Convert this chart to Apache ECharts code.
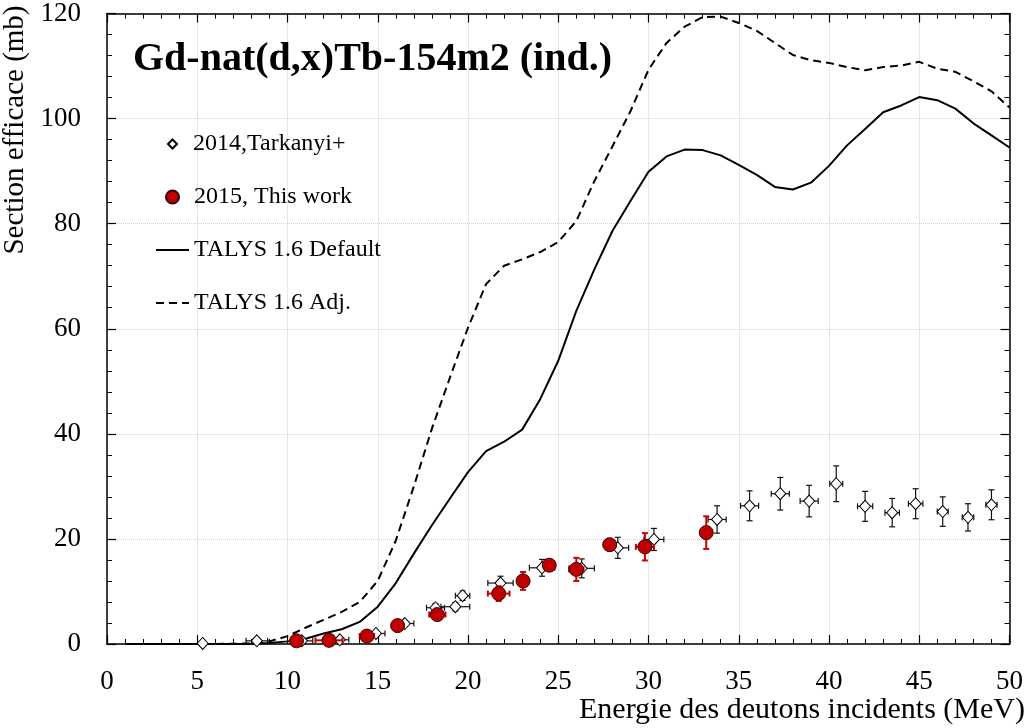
<!DOCTYPE html>
<html>
<head>
<meta charset="utf-8">
<script src="https://cdn.jsdelivr.net/npm/echarts@6/dist/echarts.min.js"></script>
<style>
  html, body { margin: 0; padding: 0; background: #fff; }
  #chart { width: 1026px; height: 728px; }
</style>
</head>
<body>
<div id="chart"></div>
<script>
// TALYS 1.6 curves, 1 MeV steps
const talysE = [1,2,3,4,5,6,7,8,9,10,11,12,13,14,15,16,17,18,19,20,21,22,23,24,25,26,27,28,29,30,31,32,33,34,35,36,37,38,39,40,41,42,43,44,45,46,47,48,49,50]
const talysDefault = [0,0,0,0,0,0,0,0.05,0.2,0.5,1.0,2.0,2.8,4.2,7.1,11.6,17.2,22.6,27.7,32.7,36.7,38.5,40.8,46.6,53.9,63.4,71.3,78.6,84.3,89.9,92.8,94.1,94.0,93.0,91.2,89.3,87.0,86.5,87.8,91.0,94.9,98.0,101.2,102.5,104.1,103.5,101.9,99.1,96.8,94.5]
const talysAdj = [0,0,0,0,0,0,0.05,0.1,0.5,1.5,3.1,4.6,6.1,8.0,12.0,19.7,30.0,41.0,50.7,60.2,68.5,72.0,73.2,74.6,76.5,80.5,88.1,94.7,101.4,109.3,114.4,117.5,119.3,119.4,118.2,116.7,114.4,112.1,111.1,110.6,109.8,109.2,109.8,110.1,110.8,109.5,108.9,107.1,105.2,102.1]

// 2014, Tarkanyi+ : energy, cross section, errors
const tarkE  = [5.3, 8.3, 10.8, 12.9, 14.9, 16.5, 18.2, 19.3, 19.7, 21.8, 24.1, 26.3, 28.3, 30.3, 33.8, 35.6, 37.3, 38.9, 40.4, 42.0, 43.5, 44.8, 46.3, 47.7, 49.0]
const tarkXs = [0.1, 0.6, 0.6, 0.8, 2.0, 3.9, 6.9, 7.1, 9.2, 11.6, 14.5, 14.4, 18.3, 19.9, 23.7, 26.3, 28.6, 27.2, 30.5, 26.2, 25.0, 26.7, 25.2, 24.1, 26.5]
const tarkDE = [0, 0.6, 0.6, 0.5, 0.5, 0.5, 0.5, 0.8, 0.4, 0.7, 0.7, 0.7, 0.6, 0.55, 0.5, 0.5, 0.5, 0.5, 0.36, 0.42, 0.4, 0.4, 0.3, 0.32, 0.31]
const tarkDX = [0, 0.3, 0.3, 0.3, 0.4, 0.5, 0.8, 0.8, 0.9, 1.3, 1.6, 1.8, 2.0, 2.1, 2.6, 2.85, 3.1, 3.0, 3.4, 2.85, 2.7, 2.85, 2.8, 2.6, 2.85]

// 2015, This work
const workE  = [10.5, 12.3, 14.4, 16.1, 18.3, 21.7, 23.05, 24.5, 26.0, 27.85, 29.8, 33.2]
const workXs = [0.6, 0.7, 1.5, 3.5, 5.6, 9.6, 12.0, 15.0, 14.2, 18.9, 18.5, 21.2]
const workDE = [0.3, 0.75, 0.4, 0.3, 0.45, 0.6, 0.2, 0.2, 0.4, 0.2, 0.5, 0.2]
const workDX = [0.3, 0.3, 0.3, 0.4, 0.8, 1.4, 1.7, 0.5, 2.2, 0.5, 2.6, 3.1]

const serif = 'Liberation Serif'

const zip2 = (a, b) => a.map((v, i) => [v, b[i]])
const zip4 = (a, b, c, d) => a.map((v, i) => [v, b[i], c[i], d[i]])

function errorBars(color, width, cap) {
    return function (params, api) {
        const x = api.value(0), y = api.value(1), dx = api.value(2), dy = api.value(3)
        const style = {stroke: color, lineWidth: width}
        const kids = []
        if (dx > 0) {
            const l = api.coord([x - dx, y]), r = api.coord([x + dx, y])
            kids.push({type: 'line', shape: {x1: l[0], y1: l[1], x2: r[0], y2: r[1]}, style: style})
            kids.push({type: 'line', shape: {x1: l[0], y1: l[1] - cap, x2: l[0], y2: l[1] + cap}, style: style})
            kids.push({type: 'line', shape: {x1: r[0], y1: r[1] - cap, x2: r[0], y2: r[1] + cap}, style: style})
        }
        if (dy > 0) {
            const t = api.coord([x, y + dy]), b = api.coord([x, y - dy])
            kids.push({type: 'line', shape: {x1: t[0], y1: t[1], x2: b[0], y2: b[1]}, style: style})
            kids.push({type: 'line', shape: {x1: t[0] - cap, y1: t[1], x2: t[0] + cap, y2: t[1]}, style: style})
            kids.push({type: 'line', shape: {x1: b[0] - cap, y1: b[1], x2: b[0] + cap, y2: b[1]}, style: style})
        }
        return {type: 'group', children: kids}
    }
}

const axisCommon = {
    axisLine: {show: true, onZero: false, lineStyle: {color: '#000', width: 1.5}},
    axisTick: {show: true, inside: true, length: 9, lineStyle: {color: '#000', width: 1.2}},
    minorTick: {show: true, splitNumber: 5, length: 5, lineStyle: {color: '#000', width: 1}},
}

const legendText = {fontFamily: serif, fontSize: 24, lineHeight: 24, color: '#000'}

const chart = echarts.init(document.getElementById('chart'), null, {renderer: 'canvas'})

chart.setOption({
    animation: false,
    backgroundColor: '#fff',
    title: {
        text: 'Gd-nat(d,x)Tb-154m2 (ind.)',
        left: 128,
        top: 35,
        textStyle: {fontFamily: serif, fontSize: 40, fontWeight: 'bold', color: '#000'}
    },
    legend: [
        {
            data: ['2014,Tarkanyi+'],
            orient: 'vertical',
            left: 162,
            top: 127,
            itemWidth: 9,
            itemHeight: 9,
            textStyle: Object.assign({padding: [0, 0, 0, 11]}, legendText)
        },
        {
            data: [
                '2015, This work',
                {name: 'TALYS 1.6 Default', itemStyle: {opacity: 0}},
                {name: 'TALYS 1.6 Adj.', itemStyle: {opacity: 0}}
            ],
            orient: 'vertical',
            left: 150,
            top: 180,
            itemGap: 29,
            itemWidth: 33,
            itemHeight: 13,
            textStyle: legendText
        }
    ],
    grid: {left: 107, right: 14, top: 12, bottom: 84, containLabel: false},
    xAxis: [
        Object.assign({
            type: 'value', min: 0, max: 50, interval: 5, position: 'bottom',
            axisLabel: {fontFamily: serif, fontSize: 27, color: '#000', margin: 24},
            splitLine: {show: true, lineStyle: {color: '#d0d0d0', type: 'dotted', width: 1}}
        }, axisCommon),
        Object.assign({
            type: 'value', min: 0, max: 50, interval: 5, position: 'top',
            axisLabel: {show: false}, splitLine: {show: false}
        }, axisCommon)
    ],
    yAxis: [
        Object.assign({
            type: 'value', min: 0, max: 120, interval: 20, position: 'left',
            axisLabel: {fontFamily: serif, fontSize: 27, color: '#000', margin: 26},
            splitLine: {show: true, lineStyle: {color: '#d0d0d0', type: 'dotted', width: 1}}
        }, axisCommon),
        Object.assign({
            type: 'value', min: 0, max: 120, interval: 20, position: 'right',
            axisLabel: {show: false}, splitLine: {show: false}
        }, axisCommon)
    ],
    graphic: [
        {
            type: 'text', x: 15, y: 130, rotation: Math.PI / 2,
            style: {text: 'Section efficace (mb)', font: '29px "Liberation Serif"', fill: '#000', align: 'center', verticalAlign: 'middle'}
        },
        {
            type: 'text', x: 1025, y: 710,
            style: {text: 'Energie des deutons incidents (MeV)', font: '30px "Liberation Serif"', fill: '#000', align: 'right', verticalAlign: 'middle'}
        }
    ],
    series: [
        {
            name: 'TALYS 1.6 Default', type: 'line', symbol: 'none', z: 2,
            data: zip2(talysE, talysDefault),
            lineStyle: {color: '#000', width: 2}, itemStyle: {color: '#000'}
        },
        {
            name: 'TALYS 1.6 Adj.', type: 'line', symbol: 'none', z: 2,
            data: zip2(talysE, talysAdj),
            lineStyle: {color: '#000', width: 2, type: [8, 5]}, itemStyle: {color: '#000'}
        },
        {
            type: 'custom', z: 3, silent: true,
            renderItem: errorBars('#111', 1.2, 3),
            encode: {x: 0, y: 1},
            data: zip4(tarkE, tarkXs, tarkDE, tarkDX)
        },
        {
            name: '2014,Tarkanyi+', type: 'scatter', z: 4,
            symbol: 'diamond', symbolSize: [11, 12],
            data: zip2(tarkE, tarkXs),
            itemStyle: {color: '#fff', borderColor: '#000', borderWidth: 1, opacity: 1}
        },
        {
            type: 'custom', z: 5, silent: true,
            renderItem: errorBars('#cc0000', 2, 3),
            encode: {x: 0, y: 1},
            data: zip4(workE, workXs, workDE, workDX)
        },
        {
            name: '2015, This work', type: 'scatter', z: 6,
            symbol: 'circle', symbolSize: 14,
            data: zip2(workE, workXs),
            itemStyle: {color: '#c00000', borderColor: '#300', borderWidth: 1, opacity: 1}
        }
    ]
})
</script>
</body>
</html>
